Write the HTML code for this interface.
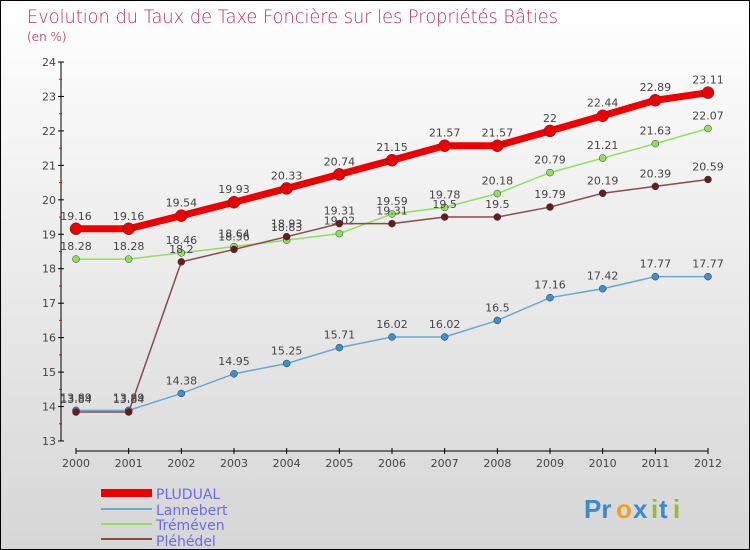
<!DOCTYPE html>
<html><head><meta charset="utf-8"><style>
body{margin:0}
#c{position:relative;width:748px;height:548px;border:1px solid #000;background:linear-gradient(#fff,#d6d6d6);font-family:"DejaVu Sans","Liberation Sans",sans-serif;overflow:hidden}
</style></head><body>
<div id="c">
<svg id="s" width="748" height="548">
<text x="26" y="22" font-size="19" fill="#c0305a" font-family="DejaVu Sans,sans-serif" font-weight="200" textLength="531" lengthAdjust="spacingAndGlyphs">Evolution du Taux de Taxe Foncière sur les Propriétés Bâties</text>
<text x="26" y="40" font-size="12" fill="#c06080">(en %)</text>
<g id="axes"></g><g id="series"></g>
<g>
<rect x="100" y="488" width="51" height="8" fill="#e00"/>
<text x="155" y="498" font-size="14" fill="#6a6af0">PLUDUAL</text>
<line x1="100" x2="151" y1="508" y2="508" stroke="#6aa8d0" stroke-width="2"/>
<text x="155" y="514" font-size="14" fill="#6a6af0">Lannebert</text>
<line x1="100" x2="151" y1="523" y2="523" stroke="#90e060" stroke-width="2"/>
<text x="155" y="529" font-size="14" fill="#6a6af0">Tréméven</text>
<line x1="100" x2="151" y1="538" y2="538" stroke="#8a4a4a" stroke-width="2"/>
<text x="155" y="545" font-size="14" fill="#6a6af0">Pléhédel</text>
</g>
<g font-size="26" font-weight="bold" font-family="Liberation Sans,sans-serif">
<text x="583" y="517" fill="#3a8ad0">Pr</text><text x="615" y="517" fill="#f0a020">o</text><text x="632" y="517" fill="#3a8ad0">x</text><text x="650" y="517" fill="#90c030">i</text><text x="658" y="517" fill="#3a8ad0">t</text><text x="672" y="517" fill="#90c030">i</text>
</g>
</svg>
</div>
<script>
const years=[2000,2001,2002,2003,2004,2005,2006,2007,2008,2009,2010,2011,2012];
const yTicks=[13,14,15,16,17,18,19,20,21,22,23,24];
const pludual=[19.16,19.16,19.54,19.93,20.33,20.74,21.15,21.57,21.57,22,22.44,22.89,23.11];
const lannebert=[13.89,13.89,14.38,14.95,15.25,15.71,16.02,16.02,16.5,17.16,17.42,17.77,17.77];
const tremeven=[18.28,18.28,18.46,18.64,18.83,19.02,19.59,19.78,20.18,20.79,21.21,21.63,22.07];
const plehedel=[13.84,13.84,18.2,18.56,18.93,19.31,19.31,19.5,19.5,19.79,20.19,20.39,20.59];
const NS="http://www.w3.org/2000/svg";
const X=i=>75+i*(707-75)/(years.length-1);
const Y=v=>440-(v-13)*(440-61)/11;
function mk(t,a,p){const e=document.createElementNS(NS,t);for(const k in a)e.setAttribute(k,a[k]);p.appendChild(e);return e;}
const ax=document.getElementById('axes');
let e=mk('line',{x1:60,x2:60,y1:61,y2:440,stroke:'#000'},ax);


e=mk('line',{x1:75,x2:707,y1:450,y2:450,stroke:'#000'},ax);


yTicks.forEach(v=>{mk('line',{x1:57,x2:63,y1:Y(v),y2:Y(v),stroke:'#000'},ax);
 if(v<24)mk('line',{x1:58,x2:61,y1:Y(v+0.5),y2:Y(v+0.5),stroke:'#e00'},ax);
 const t=mk('text',{x:55,y:Y(v)+4,'font-size':11,fill:'#444','text-anchor':'end'},ax);t.textContent=v;
 
 });
years.forEach((y,i)=>{mk('line',{x1:X(i),x2:X(i),y1:447,y2:453,stroke:'#000'},ax);
 const t=mk('text',{x:X(i),y:466,'font-size':11,fill:'#444','text-anchor':'middle'},ax);t.textContent=y;
 
 });
const sg=document.getElementById('series');
function draw(name,d,col,w,r,fill){const g=mk('g',{},sg);
 
 
 mk('polyline',{points:d.map((v,i)=>X(i)+','+Y(v)).join(' '),fill:'none',stroke:col,'stroke-width':w},g);
 d.forEach((v,i)=>{const c=mk('circle',{cx:X(i),cy:Y(v),r:r,fill:fill,stroke:'#333','stroke-width':0.5},g);
  
  
  const t=mk('text',{x:X(i),y:Y(v)-9,'font-size':11,fill:'#444','text-anchor':'middle'},g);t.textContent=v;});}
draw('tremeven',tremeven,'#90e060',1.5,3.5,'#90e060');
draw('lannebert',lannebert,'#6aa8d0',1.5,3.5,'#3a90d0');
draw('plehedel',plehedel,'#8a4a4a',1.5,3.5,'#6a1a1a');
draw('pludual',pludual,'#e00',7,6,'#e00');
</script>
</body></html>
